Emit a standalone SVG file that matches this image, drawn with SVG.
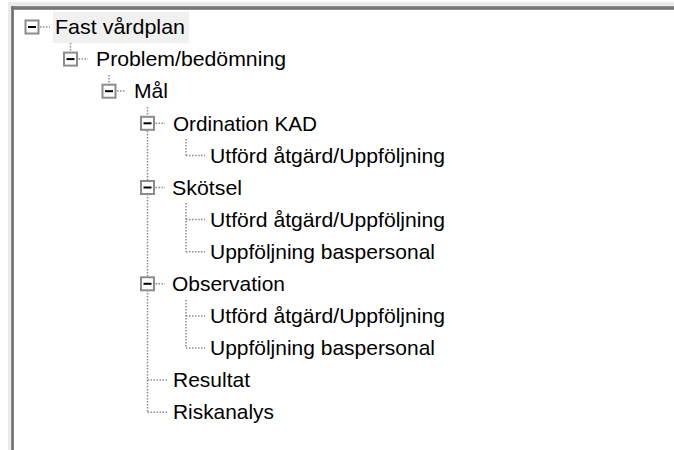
<svg xmlns="http://www.w3.org/2000/svg" width="674" height="450" viewBox="0 0 674 450">
<style>
.t{font-family:"Liberation Sans",Arial,sans-serif;font-size:21px;fill:#000}
.dl{stroke:#8a8a8a;stroke-width:1.5;stroke-dasharray:1.5 1.5;fill:none}
.bx{fill:#fff;stroke:#8c8c8c;stroke-width:2}
.mn{stroke:#000;stroke-width:2}
</style>
<defs>
<g id="btn"><rect class="bx" x="-6.5" y="-6.5" width="13" height="13"/><line class="mn" x1="-4" y1="0" x2="4" y2="0"/></g>
</defs>
<rect x="0" y="0" width="674" height="450" fill="#fff"/>
<rect x="8" y="2" width="666" height="4" fill="#ebebeb"/>
<rect x="8" y="2" width="3" height="448" fill="#ebebeb"/>
<rect x="11" y="6" width="663" height="4" fill="#8f8f8f"/>
<rect x="11" y="6" width="3" height="444" fill="#8f8f8f"/>
<rect x="11" y="7.5" width="663" height="1.2" fill="#6a6a6a"/>
<rect x="12" y="6" width="1.2" height="444" fill="#6a6a6a"/>
<g id="connectors">
<line class="dl" x1="40" y1="27" x2="50" y2="27"/>
<line class="dl" x1="70.5" y1="43" x2="70.5" y2="52"/>
<line class="dl" x1="78.5" y1="59" x2="88" y2="59"/>
<line class="dl" x1="109" y1="75" x2="109" y2="84"/>
<line class="dl" x1="117" y1="91" x2="126" y2="91"/>
<line class="dl" x1="147.5" y1="107" x2="147.5" y2="412"/>
<line class="dl" x1="155.5" y1="123.3" x2="165" y2="123.3"/>
<line class="dl" x1="155.5" y1="187.5" x2="165" y2="187.5"/>
<line class="dl" x1="155.5" y1="283.8" x2="165" y2="283.8"/>
<line class="dl" x1="147.5" y1="380.1" x2="168" y2="380.1"/>
<line class="dl" x1="147.5" y1="412.2" x2="168" y2="412.2"/>
<line class="dl" x1="186" y1="139" x2="186" y2="155.4"/>
<line class="dl" x1="186" y1="155.4" x2="205" y2="155.4"/>
<line class="dl" x1="186" y1="203" x2="186" y2="251.7"/>
<line class="dl" x1="186" y1="219.6" x2="205" y2="219.6"/>
<line class="dl" x1="186" y1="251.7" x2="205" y2="251.7"/>
<line class="dl" x1="186" y1="300" x2="186" y2="348"/>
<line class="dl" x1="186" y1="315.9" x2="205" y2="315.9"/>
<line class="dl" x1="186" y1="348" x2="205" y2="348"/>
</g>
<g id="n-fast">
<rect x="53" y="12" width="136" height="31" fill="#f0f0f0"/>
<use href="#btn" x="32" y="27"/>
<text class="t" x="55" y="34" textLength="130" lengthAdjust="spacingAndGlyphs">Fast vårdplan</text>
</g>
<g id="n-problem">
<use href="#btn" x="70.5" y="59.1"/>
<text class="t" x="96" y="66" textLength="190" lengthAdjust="spacingAndGlyphs">Problem/bedömning</text>
</g>
<g id="n-mal">
<use href="#btn" x="109" y="91.2"/>
<text class="t" x="134" y="98" textLength="34" lengthAdjust="spacingAndGlyphs">Mål</text>
</g>
<g id="n-ordination">
<use href="#btn" x="147.5" y="123.3"/>
<text class="t" x="173" y="130.5" textLength="144" lengthAdjust="spacingAndGlyphs">Ordination KAD</text>
</g>
<g id="n-ord-utford">
<text class="t" x="210" y="162.5" textLength="235" lengthAdjust="spacingAndGlyphs">Utförd åtgärd/Uppföljning</text>
</g>
<g id="n-skotsel">
<use href="#btn" x="147.5" y="187.5"/>
<text class="t" x="172" y="194.5" textLength="70" lengthAdjust="spacingAndGlyphs">Skötsel</text>
</g>
<g id="n-sko-utford">
<text class="t" x="210" y="226.7" textLength="235" lengthAdjust="spacingAndGlyphs">Utförd åtgärd/Uppföljning</text>
</g>
<g id="n-sko-uppf">
<text class="t" x="210" y="258.8" textLength="225" lengthAdjust="spacingAndGlyphs">Uppföljning baspersonal</text>
</g>
<g id="n-observation">
<use href="#btn" x="147.5" y="283.8"/>
<text class="t" x="172" y="291" textLength="113" lengthAdjust="spacingAndGlyphs">Observation</text>
</g>
<g id="n-obs-utford">
<text class="t" x="210" y="323" textLength="235" lengthAdjust="spacingAndGlyphs">Utförd åtgärd/Uppföljning</text>
</g>
<g id="n-obs-uppf">
<text class="t" x="210" y="355" textLength="225" lengthAdjust="spacingAndGlyphs">Uppföljning baspersonal</text>
</g>
<g id="n-resultat">
<text class="t" x="173" y="387.2" textLength="77" lengthAdjust="spacingAndGlyphs">Resultat</text>
</g>
<g id="n-riskanalys">
<text class="t" x="173" y="419.3" textLength="101" lengthAdjust="spacingAndGlyphs">Riskanalys</text>
</g>
</svg>
